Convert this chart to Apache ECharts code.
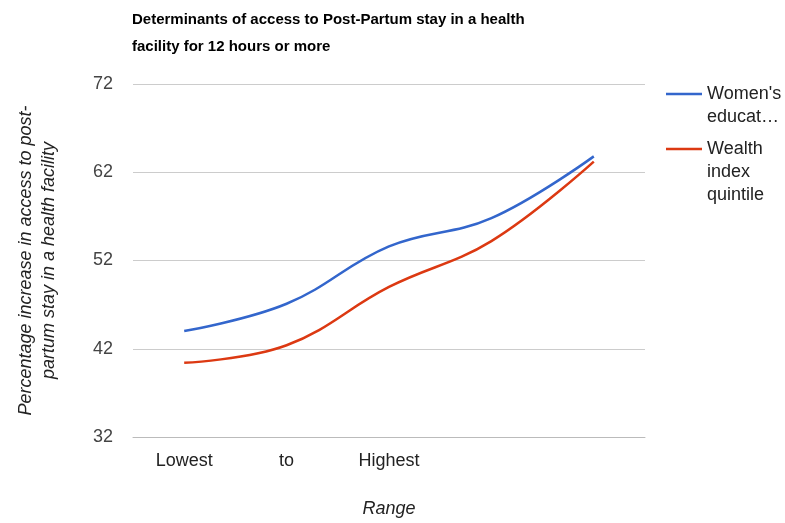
<!DOCTYPE html>
<html>
<head>
<meta charset="utf-8">
<script src="https://cdn.jsdelivr.net/npm/echarts@6/dist/echarts.min.js"></script>
<style>
  html, body { margin: 0; padding: 0; background: #fff; }
  #chart { width: 785px; height: 523px; }
</style>
</head>
<body>
<div id="chart"></div>
<script>
// Range categories (only the first three carry a label)
var categories = ['Lowest', 'to', 'Highest', '', ''];
// Percentage increase in access, per series
var womensEducation = [44.0, 47.1, 53.6, 56.8, 63.8];
var wealthIndex = [40.4, 42.4, 49.0, 54.2, 63.2];
// Value axis ticks
var yTicks = [32, 42, 52, 62, 72];

var FONT = 'Arial, "Liberation Sans", sans-serif';
var chart = echarts.init(document.getElementById('chart'), null, { renderer: 'canvas' });

// Legend entries keep the swatch on the first text line: blank lines above
// balance the lines below so the vertically centred block lines up.
function legendBlock(lines) {
  var pad = [];
  for (var i = 1; i < lines.length; i++) pad.push('');
  return pad.concat(lines).join('\n');
}

var legendCommon = {
  orient: 'vertical',
  left: 666,
  padding: 0,
  itemWidth: 36,
  itemHeight: 14,
  icon: 'path://M0,6 L35,6 L35,8.5 L0,8.5 Z',
  textStyle: { fontFamily: FONT, fontSize: 18, color: '#222', lineHeight: 23 }
};

chart.setOption({
  animation: false,
  backgroundColor: '#fff',
  title: {
    text: 'Determinants of access to Post-Partum stay in a health\nfacility for 12 hours or more',
    left: 127,
    top: 1,
    textStyle: {
      fontFamily: FONT,
      fontSize: 15,
      fontWeight: 'bold',
      color: '#000',
      lineHeight: 27
    }
  },
  legend: [
    Object.assign({}, legendCommon, {
      data: ["Women's education"],
      top: 59.5,
      formatter: function () { return legendBlock(["Women's", 'educat\u2026']); }
    }),
    Object.assign({}, legendCommon, {
      data: ['Wealth index quintile'],
      top: 91.5,
      formatter: function () { return legendBlock(['Wealth', 'index', 'quintile']); }
    })
  ],
  grid: {
    left: 133,
    top: 84,
    width: 512,
    bottom: 86,
    containLabel: false,
    outerBoundsMode: 'none'
  },
  xAxis: {
    type: 'category',
    data: categories,
    boundaryGap: true,
    name: 'Range',
    nameLocation: 'middle',
    nameGap: 63,
    nameTextStyle: { fontFamily: FONT, fontSize: 18, fontStyle: 'italic', color: '#222' },
    axisLine: { show: true, lineStyle: { color: '#bbb', width: 1 } },
    axisTick: { show: false },
    axisLabel: {
      interval: 0,
      margin: 15,
      fontFamily: FONT, fontSize: 18, color: '#222'
    },
    splitLine: { show: false }
  },
  yAxis: {
    type: 'value',
    min: yTicks[0],
    max: yTicks[yTicks.length - 1],
    interval: 10,
    name: 'Percentage increase in access to post-\npartum stay in a health facility',
    nameLocation: 'middle',
    nameRotate: 90,
    nameGap: 73,
    nameTextStyle: {
      fontFamily: FONT, fontSize: 18, fontStyle: 'italic', color: '#222', lineHeight: 23
    },
    axisLine: { show: false },
    axisTick: { show: false },
    axisLabel: {
      margin: 20,
      fontFamily: FONT, fontSize: 18, color: '#444'
    },
    splitLine: { show: true, lineStyle: { color: '#ccc', width: 1 } }
  },
  series: [
    {
      name: "Women's education",
      type: 'line',
      data: womensEducation,
      smooth: 0.4,
      showSymbol: false,
      symbol: 'none',
      color: '#3366cc',
      lineStyle: { width: 2.5, color: '#3366cc' }
    },
    {
      name: 'Wealth index quintile',
      type: 'line',
      data: wealthIndex,
      smooth: 0.4,
      showSymbol: false,
      symbol: 'none',
      color: '#dc3912',
      lineStyle: { width: 2.5, color: '#dc3912' }
    }
  ]
});
</script>
</body>
</html>
